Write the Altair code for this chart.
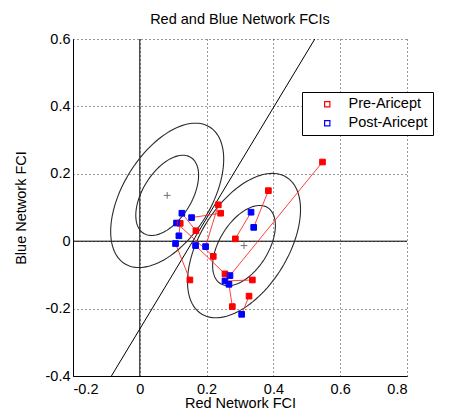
import altair as alt
import pandas as pd
import numpy as np

# ---- data ----
pre_x  = [0.547, 0.385, 0.286, 0.235, 0.242, 0.168, 0.121, 0.220, 0.150, 0.255, 0.337, 0.277, 0.327]
pre_y  = [0.235, 0.150, 0.007, 0.108, 0.083, 0.031, 0.053, -0.045, -0.115, -0.097, -0.115, -0.194, -0.163]
post_x = [0.270, 0.341, 0.333, 0.197, 0.155, 0.126, 0.117, 0.110, 0.107, 0.167, 0.255, 0.267, 0.305]
post_y = [-0.102, 0.041, 0.086, -0.016, 0.070, 0.083, 0.016, 0.054, -0.007, -0.013, -0.118, -0.128, -0.217]

groups = ["Pre-Aricept", "Post-Aricept"]
group_colors = ["#ff0000", "#0000ff"]

# group centres (+) and shared ellipse shape (half extents, correlation)
center_x = [0.312, 0.082]
center_y = [-0.013, 0.136]
ell_hx = 0.094
ell_hy = 0.119
ell_rho = 0.5
ell_levels = [1.0, 1.8]

# discriminant line end points
line_x = [-0.085, 0.524]
line_y = [-0.400, 0.600]

x_ticks = [-0.2, 0, 0.2, 0.4, 0.6, 0.8]
y_ticks = [-0.4, -0.2, 0, 0.2, 0.4, 0.6]

FONT = "Liberation Sans"
FS = 14.5

# ---- tables ----
pts = pd.DataFrame(
    [{"x": x, "y": y, "group": groups[0]} for x, y in zip(pre_x, pre_y)]
    + [{"x": x, "y": y, "group": groups[1]} for x, y in zip(post_x, post_y)]
)
pairs = pd.DataFrame(
    [{"pair": i, "k": 0, "x": pre_x[i], "y": pre_y[i]} for i in range(len(pre_x))]
    + [{"pair": i, "k": 1, "x": post_x[i], "y": post_y[i]} for i in range(len(pre_x))]
)
t = np.linspace(0, 2 * np.pi, 121)
ell_rows = []
for gi, (cx, cy) in enumerate(zip(center_x, center_y)):
    for li, s in enumerate(ell_levels):
        for j, tt in enumerate(t):
            ell_rows.append({
                "id": f"{gi}-{li}", "o": j,
                "x": cx + s * ell_hx * np.cos(tt),
                "y": cy + s * ell_hy * (ell_rho * np.cos(tt) + np.sqrt(1 - ell_rho ** 2) * np.sin(tt)),
            })
ell = pd.DataFrame(ell_rows)
centers = pd.DataFrame({"x": center_x, "y": center_y})
disc = pd.DataFrame({"x": line_x, "y": line_y})
zero = pd.DataFrame({"v": [0]})

lab = "replace(format(datum.value, '.1f'), '\u2212', '-') == '0.0' ? '0' : replace(format(datum.value, '.1f'), '\u2212', '-')"

X = alt.X("x:Q", scale=alt.Scale(domain=[-0.2, 0.8], nice=False, zero=False),
          axis=alt.Axis(values=x_ticks, title="Red Network FCI", labelExpr=lab,
                        labelPadding=6, titlePadding=1))
Y = alt.Y("y:Q", scale=alt.Scale(domain=[-0.4, 0.6], nice=False, zero=False),
          axis=alt.Axis(values=y_ticks, title="Blue Network FCI", labelExpr=lab,
                        labelPadding=3, titlePadding=17))

base = alt.Chart(pts)

vrule = alt.Chart(zero).mark_rule(color="black", strokeWidth=1).encode(x=alt.X("v:Q"))
hrule = alt.Chart(zero).mark_rule(color="black", strokeWidth=1).encode(y=alt.Y("v:Q"))
disc_line = alt.Chart(disc).mark_line(color="black", strokeWidth=1).encode(x=X, y=Y)
ellipses = alt.Chart(ell).mark_line(color="#2a2a2a", strokeWidth=1.1).encode(
    x="x:Q", y="y:Q", detail="id:N", order="o:Q")
plus = alt.Chart(centers).mark_point(
    shape="M-1,0H1M0,-1V1", filled=False, color="#333", size=45, strokeWidth=1).encode(x="x:Q", y="y:Q")
links = alt.Chart(pairs).mark_line(color="#ff2a2a", strokeWidth=1, opacity=0.9).encode(
    x="x:Q", y="y:Q", detail="pair:N", order="k:Q")

filled_layers = [
    base.transform_filter(alt.datum.group == g).mark_square(
        filled=True, size=32, opacity=1, color=c).encode(x="x:Q", y="y:Q")
    for g, c in zip(groups, group_colors)
]
hollow = base.mark_square(filled=False, size=32, strokeWidth=1, opacity=1).encode(
    x="x:Q", y="y:Q",
    stroke=alt.Stroke("group:N", scale=alt.Scale(domain=groups, range=group_colors),
                      legend=alt.Legend(title=None, orient="none", legendX=229, legendY=53,
                                        symbolType="square", symbolSize=28, symbolStrokeWidth=1.2,
                                        symbolOffset=13, labelOffset=14,
                                        labelExpr="datum.label + '        '",
                                        labelFont=FONT, labelFontSize=FS, labelColor="black",
                                        padding=5, rowPadding=4,
                                        strokeColor="black", fillColor="white")))

chart = alt.layer(vrule, hrule, disc_line, ellipses, plus, links, *filled_layers, hollow).properties(
    width=334, height=337,
    title=alt.TitleParams("Red and Blue Network FCIs", font=FONT, fontSize=FS,
                          fontWeight="normal", color="black", offset=4),
    autosize=alt.AutoSizeParams(type="none"),
    padding={"left": 65, "top": 31, "right": 36, "bottom": 36},
).configure_view(stroke=None).configure_axis(
    labelFont=FONT, labelFontSize=FS, labelColor="black",
    titleFont=FONT, titleFontSize=FS, titleFontWeight="normal", titleColor="black",
    domainColor="black", domainWidth=1, ticks=False,
    grid=True, gridColor="black", gridDash=[1, 3], gridOpacity=0.8, gridWidth=1,
)

chart.save("out.html", embed_options={"renderer": "svg", "actions": False})
